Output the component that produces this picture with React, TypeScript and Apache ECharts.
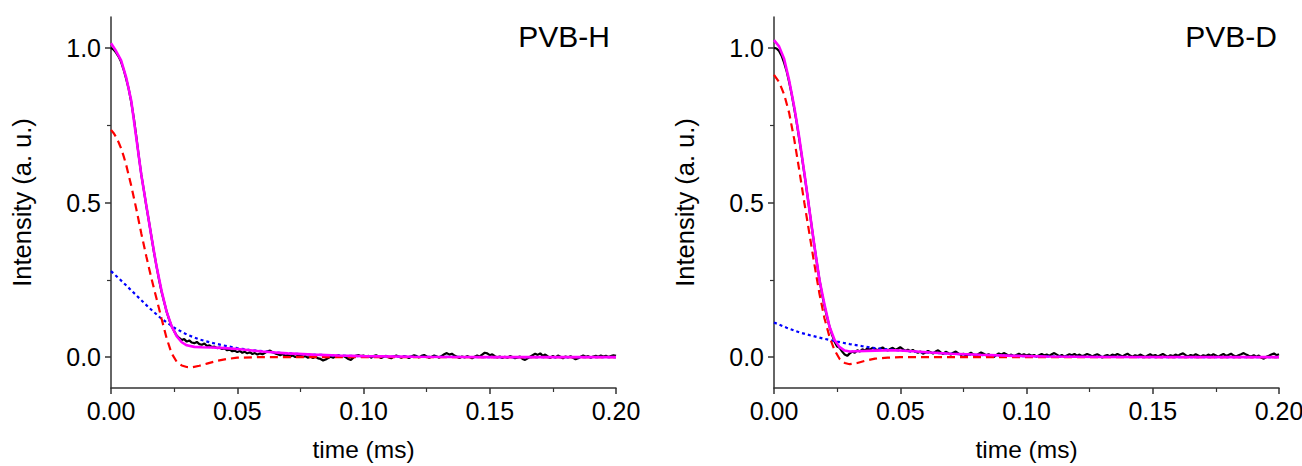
import React, { useEffect, useRef } from "react";
import * as echarts from "echarts";

// ---------- PVB-H ----------
// measured data, sampled every 0.001 ms from 0 to 0.200 ms
const dataStepMs = 0.001;
const dataH = [
  1.0, 0.995, 0.985, 0.972, 0.955, 0.93, 0.9, 0.868, 0.825, 0.775,
  0.715, 0.65, 0.59, 0.54, 0.488, 0.44, 0.39, 0.34, 0.295, 0.252,
  0.212, 0.18, 0.148, 0.122, 0.1, 0.084, 0.07, 0.062, 0.055, 0.058,
  0.05, 0.054, 0.047, 0.045, 0.049, 0.042, 0.04, 0.044, 0.036, 0.038,
  0.032, 0.034, 0.029, 0.031, 0.026, 0.028, 0.022, 0.024, 0.019, 0.021,
  0.016, 0.02, 0.014, 0.017, 0.012, 0.016, 0.01, 0.013, 0.008, 0.012,
  0.009, 0.014, 0.019, 0.021, 0.016, 0.012, 0.009, 0.006, 0.01, 0.004,
  0.007, 0.002, 0.005, 0.0, 0.004, 0.006, 0.001, 0.003, -0.002, 0.002,
  -0.003, 0.001, -0.004, -0.006, -0.011, -0.008, -0.003, 0.001, -0.002, 0.003,
  0.006, 0.002, 0.004, -0.001, -0.006, -0.009, -0.002, 0.004, 0.007, 0.003,
  0.005, 0.001, 0.004, -0.002, 0.003, 0.006, 0.002, -0.003, 0.001, 0.004,
  -0.001, -0.004, 0.002, 0.005, 0.001, -0.002, 0.003, 0.001, -0.003, 0.002,
  0.006, 0.003, -0.001, 0.004, 0.007, 0.002, -0.002, 0.001, 0.005, 0.002,
  -0.002, 0.004, 0.009, 0.013, 0.008, 0.011, 0.005, 0.001, -0.003, 0.002,
  -0.001, 0.003, 0.0, -0.004, 0.001, 0.005, 0.002, 0.008, 0.014, 0.012,
  0.006, 0.009, 0.003, -0.001, 0.002, -0.003, 0.001, -0.002, 0.003, 0.0,
  -0.004, -0.001, 0.002, -0.006, -0.009, -0.004, 0.001, 0.006, 0.011, 0.007,
  0.012, 0.004, 0.008, 0.002, -0.003, 0.004, -0.002, 0.005, 0.001, -0.004,
  0.002, -0.001, 0.003, -0.002, -0.007, -0.004, 0.001, 0.005, 0.001, 0.003,
  -0.002, 0.002, 0.004, 0.001, 0.005, 0.002, 0.004, 0.0, 0.003, 0.006,
  0.004,
];

const fitTimeH = [
  0, 0.002, 0.004, 0.006, 0.008, 0.01, 0.012, 0.014, 0.016, 0.018, 0.02,
  0.022, 0.024, 0.026, 0.028, 0.03, 0.033, 0.036, 0.04, 0.045, 0.05, 0.055,
  0.06, 0.065, 0.07, 0.08, 0.09, 0.1, 0.12, 0.15, 0.2,
];
const fitH = [
  1.015, 0.99, 0.96, 0.905, 0.83, 0.71, 0.59, 0.49, 0.39, 0.295, 0.215,
  0.148, 0.1, 0.068, 0.048, 0.038, 0.033, 0.032, 0.031, 0.029, 0.026, 0.022,
  0.018, 0.015, 0.012, 0.008, 0.005, 0.003, 0.001, 0.0, 0.0,
];

const fastTimeH = [
  0, 0.001, 0.002, 0.003, 0.004, 0.005, 0.006, 0.008, 0.01, 0.012, 0.014,
  0.016, 0.018, 0.02, 0.022, 0.024, 0.026, 0.028, 0.03, 0.032, 0.035, 0.038,
  0.042, 0.046, 0.05, 0.06, 0.2,
];
const fastH = [
  0.735, 0.725, 0.712, 0.695, 0.675, 0.65, 0.622, 0.555, 0.48, 0.4, 0.325,
  0.255, 0.19, 0.125, 0.062, 0.012, -0.015, -0.027, -0.032, -0.033, -0.028, -0.021,
  -0.012, -0.006, -0.002, 0.0, 0.0,
];

const slowTimeH = [
  0, 0.005, 0.01, 0.015, 0.02, 0.025, 0.03, 0.035, 0.04, 0.045, 0.05, 0.055,
  0.06, 0.065, 0.07, 0.08, 0.09, 0.1, 0.12, 0.15, 0.2,
];
const slowH = [
  0.278, 0.24, 0.2, 0.16, 0.124, 0.095, 0.073, 0.057, 0.046, 0.037, 0.029, 0.023,
  0.019, 0.015, 0.012, 0.008, 0.005, 0.003, 0.001, 0.0, 0.0,
];

// ---------- PVB-D ----------
const dataD = [
  1.0, 0.998, 0.99, 0.975, 0.952, 0.925, 0.89, 0.85, 0.805, 0.758,
  0.705, 0.65, 0.594, 0.537, 0.478, 0.418, 0.36, 0.303, 0.25, 0.205,
  0.165, 0.13, 0.098, 0.072, 0.05, 0.034, 0.03, 0.018, 0.008, 0.004,
  0.012, 0.018, 0.014, 0.022, 0.018, 0.025, 0.021, 0.028, 0.024, 0.03,
  0.026, 0.022, 0.027, 0.031, 0.025, 0.021, 0.026, 0.03, 0.024, 0.027,
  0.032, 0.026, 0.02, 0.024, 0.019, 0.023, 0.017, 0.014, 0.018, 0.011,
  0.015, 0.02, 0.016, 0.011, 0.018, 0.022, 0.015, 0.01, 0.017, 0.013,
  0.008, 0.014, 0.018, 0.012, 0.007, 0.011, 0.005, 0.009, 0.014, 0.008,
  0.004, 0.01, 0.015, 0.011, 0.006, 0.009, 0.004, 0.0, 0.006, 0.012,
  0.008, 0.013, 0.009, 0.004, 0.008, 0.003, 0.007, 0.011, 0.006, 0.009,
  0.005, 0.008, 0.004, 0.007, 0.002, 0.006, 0.01, 0.005, 0.008, 0.004,
  0.009, 0.013, 0.008, 0.003, 0.007, 0.001, 0.005, 0.009, 0.006, 0.01,
  0.004, 0.008, 0.003, 0.006, 0.01, 0.007, 0.002, 0.006, 0.009, 0.005,
  -0.002, 0.004, 0.007, 0.003, 0.008, 0.005, 0.01, 0.006, 0.002, 0.007,
  0.011, 0.005, 0.001, 0.006, 0.003, 0.008, 0.004, 0.0, 0.005, 0.009,
  0.004, 0.007, 0.002, 0.006, 0.01, 0.005, 0.001, 0.006, 0.003, 0.008,
  0.004, 0.009, 0.012, 0.006, 0.002, 0.007, 0.004, 0.009, 0.005, 0.001,
  0.006, 0.003, 0.008, 0.004, 0.009, 0.005, 0.001, 0.006, 0.01, 0.004,
  0.007, 0.011, 0.005, 0.002, 0.006, 0.009, 0.013, 0.008, 0.004, 0.002,
  0.006, 0.001, 0.005, -0.002, -0.005, 0.001, 0.004, 0.008, 0.012, 0.006,
  0.009,
];

const fitTimeD = [
  0, 0.002, 0.004, 0.006, 0.008, 0.01, 0.012, 0.014, 0.016, 0.018, 0.02,
  0.022, 0.024, 0.026, 0.028, 0.03, 0.033, 0.04, 0.048, 0.055, 0.062, 0.07,
  0.082, 0.095, 0.108, 0.13, 0.2,
];
const fitD = [
  1.025, 1.005, 0.965, 0.895, 0.81, 0.71, 0.597, 0.478, 0.36, 0.25, 0.17,
  0.098, 0.055, 0.032, 0.021, 0.018, 0.019, 0.021, 0.022, 0.019, 0.015, 0.011,
  0.0075, 0.004, 0.002, 0.0005, 0.0,
];

const fastTimeD = [
  0, 0.002, 0.004, 0.006, 0.008, 0.01, 0.012, 0.014, 0.016, 0.018, 0.02,
  0.022, 0.024, 0.026, 0.028, 0.03, 0.033, 0.036, 0.04, 0.045, 0.05, 0.2,
];
const fastD = [
  0.913, 0.89, 0.85, 0.79, 0.705, 0.605, 0.5, 0.4, 0.3, 0.205, 0.125,
  0.065, 0.022, -0.006, -0.019, -0.023, -0.019, -0.012, -0.005, -0.002, 0.0, 0.0,
];

const slowTimeD = [
  0, 0.005, 0.01, 0.015, 0.02, 0.025, 0.03, 0.035, 0.04, 0.045, 0.05, 0.06,
  0.07, 0.08, 0.09, 0.1, 0.12, 0.15, 0.2,
];
const slowD = [
  0.112, 0.095, 0.08, 0.069, 0.059, 0.05, 0.042, 0.035, 0.029, 0.025, 0.021, 0.015,
  0.011, 0.007, 0.005, 0.003, 0.001, 0.0, 0.0,
];

const panelTitles = ["PVB-H", "PVB-D"];
const yLabelValues = [0, 0.5, 1.0];
const yMinorValues = [0.25, 0.75];

const FONT = "'Liberation Sans', Arial, sans-serif";

function pairs(xs: number[], ys: number[]) {
  return ys.map((y, i) => [xs[i], y]);
}
function sampled(ys: number[]) {
  return ys.map((y, i) => [+(i * dataStepMs).toFixed(3), y]);
}

export default function App() {
  const ref = useRef<HTMLDivElement>(null);
  useEffect(() => {
    if (!ref.current) return;
    const chart = echarts.init(ref.current, undefined, { renderer: "svg" });
    const axisColor = "#333";
    const grids = [
      { left: 111, top: 17, width: 505, height: 371, outerBoundsMode: "none", containLabel: false },
      { left: 774, top: 17, width: 505, height: 371, outerBoundsMode: "none", containLabel: false },
    ];
    const xAxes = grids.map((_, i) => ({
      type: "value",
      gridIndex: i,
      min: 0,
      max: 0.2,
      interval: 0.05,
      name: "time (ms)",
      nameLocation: "middle",
      nameGap: 49,
      nameTextStyle: { fontFamily: FONT, fontSize: 24.5, color: "#000" },
      axisLine: { show: true, onZero: false, lineStyle: { color: axisColor, width: 1.5 } },
      axisTick: { show: true, length: 6, lineStyle: { color: axisColor, width: 1.5 } },
      minorTick: { show: true, splitNumber: 2, length: 4, lineStyle: { color: axisColor, width: 1.2 } },
      splitLine: { show: false },
      minorSplitLine: { show: false },
      axisLabel: {
        fontFamily: FONT,
        fontSize: 25,
        color: "#000",
        margin: 10,
        formatter: (v: number) => v.toFixed(2),
      },
    }));
    const yAxes: any[] = [];
    grids.forEach((_, i) => {
      yAxes.push({
        type: "value",
        gridIndex: i,
        min: -0.1,
        max: 1.1,
        name: "Intensity (a. u.)",
        nameLocation: "middle",
        nameGap: 76,
        nameTextStyle: { fontFamily: FONT, fontSize: 25.5, color: "#000" },
        axisLine: { show: true, onZero: false, lineStyle: { color: axisColor, width: 1.5 } },
        axisTick: {
          show: true,
          length: 6,
          customValues: yLabelValues,
          lineStyle: { color: axisColor, width: 1.5 },
        },
        splitLine: { show: false },
        axisLabel: {
          fontFamily: FONT,
          fontSize: 25,
          color: "#000",
          margin: 10,
          customValues: yLabelValues,
          formatter: (v: number) => v.toFixed(1),
        },
      });
    });
    grids.forEach((_, i) => {
      yAxes.push({
        type: "value",
        gridIndex: i,
        position: "left",
        min: -0.1,
        max: 1.1,
        axisLine: { show: false, onZero: false },
        axisTick: {
          show: true,
          length: 4,
          customValues: yMinorValues,
          lineStyle: { color: axisColor, width: 1.2 },
        },
        axisLabel: { show: false },
        splitLine: { show: false },
      });
    });

    const mk = (
      data: number[][],
      idx: number,
      color: string,
      width: number,
      type: any,
      z: number
    ) => ({
      type: "line",
      xAxisIndex: idx,
      yAxisIndex: idx,
      data,
      showSymbol: false,
      symbol: "none",
      z,
      lineStyle: { color, width, type },
      silent: true,
    });

    const series = [
      mk(sampled(dataH), 0, "#000000", 2.2, "solid", 2),
      mk(pairs(slowTimeH, slowH), 0, "#0000ff", 2.2, [3, 3], 3),
      mk(pairs(fastTimeH, fastH), 0, "#ff0000", 2.2, [8, 5], 4),
      mk(pairs(fitTimeH, fitH), 0, "#ff00ff", 2.6, "solid", 5),
      mk(sampled(dataD), 1, "#000000", 2.2, "solid", 2),
      mk(pairs(slowTimeD, slowD), 1, "#0000ff", 2.2, [3, 3], 3),
      mk(pairs(fastTimeD, fastD), 1, "#ff0000", 2.2, [8, 5], 4),
      mk(pairs(fitTimeD, fitD), 1, "#ff00ff", 2.6, "solid", 5),
    ];

    chart.setOption({
      animation: false,
      backgroundColor: "#ffffff",
      grid: grids,
      xAxis: xAxes,
      yAxis: yAxes,
      series,
      graphic: [
        {
          type: "text",
          right: 1302 - 610,
          top: 21,
          style: { text: panelTitles[0], fontFamily: FONT, fontSize: 30, fill: "#000" },
        },
        {
          type: "text",
          right: 1302 - 1277,
          top: 21,
          style: { text: panelTitles[1], fontFamily: FONT, fontSize: 30, fill: "#000" },
        },
      ],
    });
    return () => chart.dispose();
  }, []);
  return (
    <div
      ref={ref}
      style={{ position: "absolute", left: 0, top: 0, width: 1302, height: 466 }}
    />
  );
}
